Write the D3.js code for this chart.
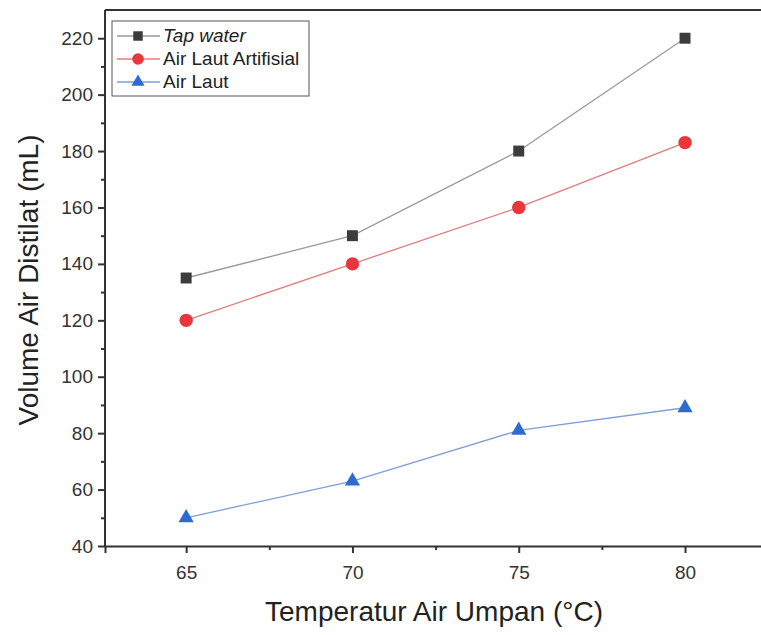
<!DOCTYPE html>
<html>
<head>
<meta charset="utf-8">
<script src="https://cdn.jsdelivr.net/npm/d3@7"></script>
<style>
  body { margin: 0; background: #fff; }
  svg { display: block; font-family: "Liberation Sans", Arial, sans-serif; }
</style>
</head>
<body>
<div id="chart"></div>
<script>
// data
const temps = [65, 70, 75, 80];
const tapWater = [135, 150, 180, 220];
const airLautArtifisial = [120, 140, 160, 183];
const airLaut = [50, 63, 81, 89];
const seriesNames = ["Tap water", "Air Laut Artifisial", "Air Laut"];
const yTicks = [40, 60, 80, 100, 120, 140, 160, 180, 200, 220];
const xTicks = [65, 70, 75, 80];

const width = 761, height = 635;
const plotLeft = 105, plotTop = 10, plotBottom = 546;

const svg = d3.select("#chart").append("svg")
    .attr("width", width)
    .attr("height", height);

// 65 -> ~186px, 80 -> ~685px
let x = d3.scaleLinear().domain([62.56, 82.6]).range([plotLeft, 771.5]);
let y = d3.scaleLinear().domain([40, 230]).range([plotBottom, plotTop]);

// frame line on top (right side is cropped off)
svg.append("line")
    .attr("x1", plotLeft).attr("x2", width)
    .attr("y1", plotTop).attr("y2", plotTop)
    .attr("stroke", "#333").attr("stroke-width", 2);

// y axis
let yAxis = svg.append("g")
    .attr("transform", `translate(${plotLeft},0)`)
    .call(d3.axisLeft(y).tickValues(yTicks).tickSize(7).tickPadding(5));
svg.append("g")
    .attr("transform", `translate(${plotLeft},0)`)
    .call(d3.axisLeft(y).tickValues(d3.range(50, 230, 20)).tickSize(4).tickFormat(""))
    .select(".domain").remove();

// x axis
let xAxis = svg.append("g")
    .attr("transform", `translate(0,${plotBottom})`)
    .call(d3.axisBottom(x).tickValues(xTicks).tickSize(7).tickPadding(13));
svg.append("g")
    .attr("transform", `translate(0,${plotBottom})`)
    .call(d3.axisBottom(x).tickValues([67.5, 72.5, 77.5, 82.5]).tickSize(4).tickFormat(""))
    .select(".domain").remove();

svg.selectAll(".domain").attr("stroke", "#333").attr("stroke-width", 2);
svg.selectAll(".tick line").attr("stroke", "#333").attr("stroke-width", 2);
svg.selectAll(".tick text")
    .style("font-size", "19px")
    .attr("fill", "#333");
yAxis.selectAll(".domain").attr("d", `M0,${plotBottom}V${plotTop}`);

// axis titles
svg.append("text")
    .attr("transform", `translate(38, ${(plotTop + plotBottom) / 2 + 2}) rotate(-90)`)
    .style("text-anchor", "middle")
    .style("font-size", "28px")
    .attr("fill", "#222")
    .text("Volume Air Distilat (mL)");

svg.append("text")
    .attr("x", 434).attr("y", 621)
    .style("text-anchor", "middle")
    .style("font-size", "28px")
    .attr("fill", "#222")
    .text("Temperatur Air Umpan (\u00B0C)");

const series = [
    { name: seriesNames[0], values: tapWater, line: "#9a9a9a", fill: "#3c3c3c", shape: d3.symbolSquare, size: 120, italic: true },
    { name: seriesNames[1], values: airLautArtifisial, line: "#e47b7b", fill: "#e8363c", shape: d3.symbolCircle, size: 140, italic: false },
    { name: seriesNames[2], values: airLaut, line: "#7d9fd8", fill: "#2d6bd0", shape: d3.symbolTriangle, size: 100, italic: false }
];

let line = d3.line()
    .x(function (d, i) { return x(temps[i]); })
    .y(function (d) { return y(d); });

series.forEach(function (s) {
    svg.append("path")
        .datum(s.values)
        .attr("fill", "none")
        .attr("stroke", s.line)
        .attr("stroke-width", 1.3)
        .attr("d", line);
    svg.selectAll(null)
        .data(s.values)
        .enter()
        .append("path")
        .attr("transform", function (d, i) { return `translate(${x(temps[i])},${y(d)})`; })
        .attr("d", d3.symbol().type(s.shape).size(s.size))
        .attr("fill", s.fill);
});

// legend
let legend = svg.append("g").attr("transform", "translate(112,21)");
legend.append("rect")
    .attr("width", 197).attr("height", 75)
    .attr("fill", "#fff")
    .attr("stroke", "#555").attr("stroke-width", 1);

series.forEach(function (s, i) {
    let ly = 15 + i * 23;
    legend.append("line")
        .attr("x1", 5).attr("x2", 48)
        .attr("y1", ly).attr("y2", ly)
        .attr("stroke", s.line).attr("stroke-width", 1.3);
    legend.append("path")
        .attr("transform", `translate(26,${ly})`)
        .attr("d", d3.symbol().type(s.shape).size(s.size * 0.75))
        .attr("fill", s.fill);
    legend.append("text")
        .attr("x", 51).attr("y", ly + 6)
        .style("font-size", "19px")
        .style("font-style", s.italic ? "italic" : "normal")
        .attr("fill", "#222")
        .text(s.name);
});
</script>
</body>
</html>
